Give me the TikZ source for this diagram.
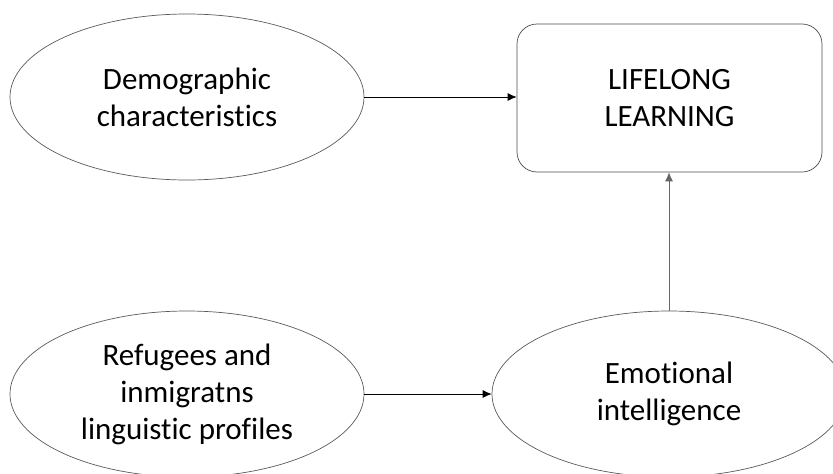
\documentclass[tikz,border=0pt]{standalone}
\usepackage{fontspec}
\setmainfont[Ligatures=NoCommon]{Carlito}
\usetikzlibrary{shapes.geometric,arrows.meta}
\begin{document}
\begin{tikzpicture}[x=1pt,y=1pt,
  oval/.style={draw=black!65,line width=0.7pt,ellipse,minimum width=354pt,minimum height=166pt,inner sep=0pt,align=center,font=\fontsize{31}{37}\selectfont},
  rbox/.style={draw=black!70,line width=0.7pt,rounded corners=20pt,minimum width=305pt,minimum height=148pt,inner sep=0pt,align=center,font=\fontsize{31}{37}\selectfont},
  conn/.style={line width=0.8pt,-{Latex[length=9pt,width=8pt]}}]
\useasboundingbox (0,0) rectangle (833,-474);
\node[oval] (demo) at (187,-97) {Demographic\\characteristics};
\node[rbox] (ll) at (669.5,-98) {LIFELONG\\LEARNING};
\node[oval] (ref) at (187,-394) {Refugees and\\inmigratns\\linguistic profiles};
\node[oval] (ei) at (669,-394) {Emotional\\intelligence};
\draw[conn] (demo.east) -- (ll.west |- demo.east);
\draw[conn] (ref.east) -- (ei.west);
\draw[conn,black!60] (ei.north) -- (ll.south -| ei.north);
\end{tikzpicture}
\end{document}
